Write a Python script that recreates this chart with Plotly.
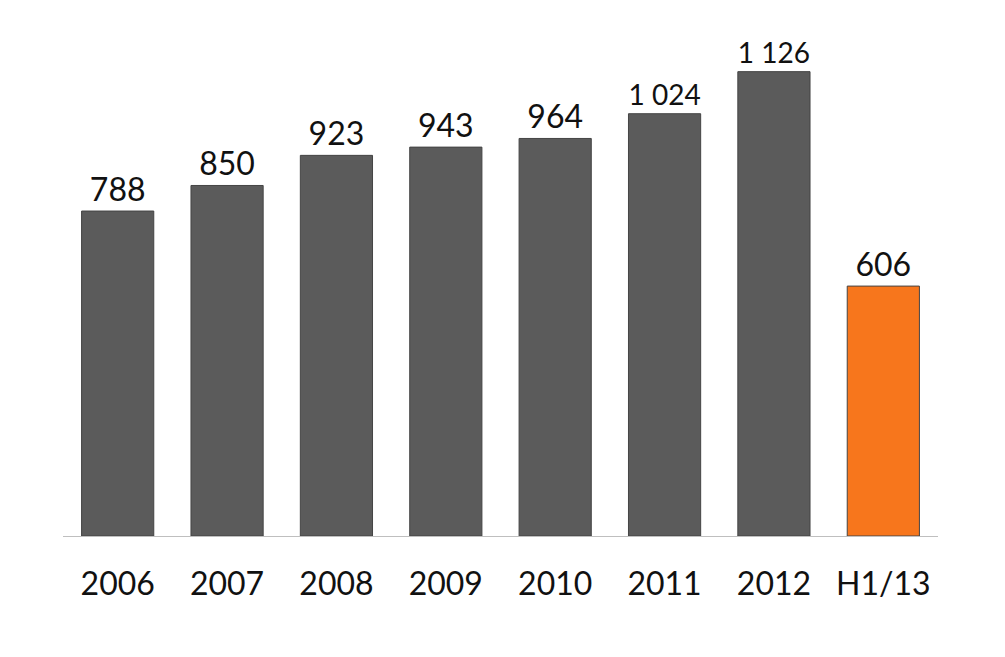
import plotly.graph_objects as go

categories = ["2006", "2007", "2008", "2009", "2010", "2011", "2012", "H1/13"]
values = [788, 850, 923, 943, 964, 1024, 1126, 606]
labels = ["788", "850", "923", "943", "964", "1 024", "1 126", "606"]
colors = ["#5b5b5b"] * 7 + ["#f7761c"]

fig = go.Figure(go.Bar(
    x=categories, y=values, text=labels, textposition="outside",
    cliponaxis=False,
    marker=dict(color=colors, line=dict(color="#444444", width=1)),
    textfont=dict(size=32, color="#111111"),
))

fig.update_layout(
    width=1005, height=657,
    margin=dict(l=55, r=75, t=22, b=129),
    plot_bgcolor="white", paper_bgcolor="white",
    font=dict(family="Lato, Open Sans, sans-serif"),
    bargap=0.34, showlegend=False,
)
fig.update_xaxes(showline=True, linecolor="#bfbfbf", linewidth=1,
                 tickfont=dict(size=32, color="#111111"), ticks="", ticklabelstandoff=20)
fig.update_yaxes(visible=False, range=[0, 1227])

fig.write_html("out.html")
